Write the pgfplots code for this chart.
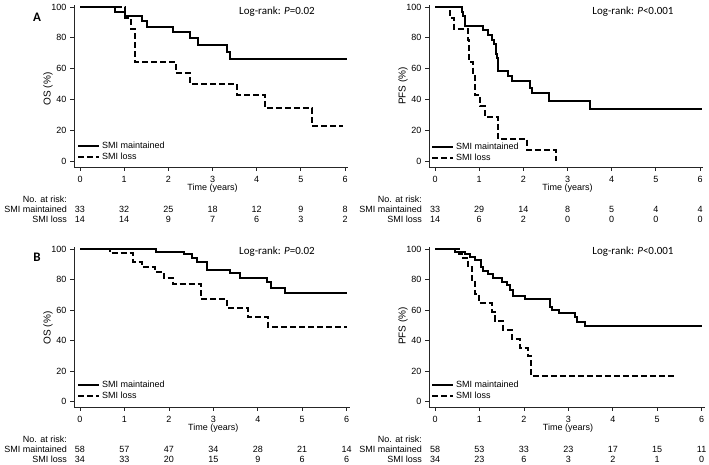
\documentclass[border=0pt]{standalone}
\usepackage{fontspec}
\setmainfont{Liberation Sans}
\newfontfamily\calfont{Carlito}
\usepackage{pgfplots}
\pgfplotsset{compat=1.18}
\newcommand\px[2]{({#1pt},{465pt-#2pt})}
\newcommand\nine{\fontsize{9}{10}\selectfont}
\pgfplotsset{
  km/.style={
    scale only axis,
    axis lines=left,
    axis line style={-, line width=0.7pt, black!85},
    tick align=outside,
    major tick length=4pt,
    tick style={line width=0.7pt, black!85},
    xtick={0,...,6},
    ytick={0,20,...,100},
    /pgf/number format/assume math mode=true,
    tick label style={font=\nine},
    xticklabel style={yshift=-1.5pt},
    clip=false,
    legend cell align=left,
    legend image code/.code={\draw[##1] (0pt,0pt) -- (21pt,0pt);},
    legend style={draw=none, fill=none, font=\nine, inner sep=0pt,
      nodes={inner xsep=2pt, inner ysep=1pt, text height=7pt, text depth=2pt}},
  },
  kmA/.style={km, width=274.1pt, height=162pt, xmin=-0.136, xmax=6.07, ymin=-3.9, ymax=101.3},
  kmB/.style={km, width=275.8pt, height=160pt, xmin=-0.135, xmax=6.07, ymin=-3.5, ymax=101.3},
  sol/.style={black, line width=2pt, const plot},
  das/.style={black, line width=2pt, const plot, dash pattern=on 6pt off 3pt},
}
\begin{document}
\begin{tikzpicture}
\useasboundingbox (0,0) rectangle (709pt,465pt);
% ---------- A left: OS ----------
\begin{axis}[kmA, at={(74pt,298pt)}, anchor=south west,
  legend style={at={(axis cs:-0.07,6.2)}, anchor=west}]
\addplot[sol] coordinates {(0,100)(0.79,97)(1.02,93.9)(1.40,90.9)(1.51,87.2)(2.11,83.5)(2.48,79.6)(2.68,75.6)(3.32,70.8)(3.40,66.2)(6.04,66.2)};
\addlegendentry{SMI maintained}
\addplot[das] coordinates {(0,100)(1.03,92.9)(1.15,85.7)(1.24,64.3)(2.17,57.1)(2.48,50)(3.55,42.9)(4.19,34.3)(5.25,22.9)(5.96,22.9)};
\addlegendentry{SMI loss}
\end{axis}
% ---------- A right: PFS ----------
\begin{axis}[kmA, at={(429pt,298pt)}, anchor=south west,
  legend style={at={(axis cs:-0.09,5.5)}, anchor=west}]
\addplot[sol] coordinates {(0,100)(0.60,97)(0.64,93.9)(0.68,87.9)(1.09,84.8)(1.21,81.8)(1.28,78.8)(1.33,75.8)(1.37,72.7)(1.39,69.7)(1.41,66.7)(1.42,63.6)(1.43,58.5)(1.66,55)(1.74,51.8)(2.15,47.7)(2.19,44.3)(2.57,39.1)(3.51,33.5)(6.04,33.5)};
\addlegendentry{SMI maintained}
\addplot[das] coordinates {(0,100)(0.33,92.9)(0.44,85.7)(0.75,78.6)(0.77,64.3)(0.87,57.1)(0.90,42.9)(1.02,35.7)(1.13,28.6)(1.43,14.3)(2.09,7.1)(2.75,0)};
\addlegendentry{SMI loss}
\end{axis}
% ---------- B left: OS ----------
\begin{axis}[kmB, at={(74pt,58pt)}, anchor=south west,
  legend style={at={(axis cs:-0.07,7.0)}, anchor=west}]
\addplot[sol] coordinates {(0,100)(1.71,98.3)(2.33,96.5)(2.51,93.9)(2.63,91.6)(2.85,86.5)(3.38,84)(3.60,80.8)(4.20,78.2)(4.29,74.7)(4.61,71)(6.0,71)};
\addlegendentry{SMI maintained}
\addplot[das] coordinates {(0,100)(0.68,97.1)(1.20,91.2)(1.39,88.2)(1.69,85.2)(1.88,80.8)(2.10,76.8)(2.72,67.5)(3.30,61.5)(3.79,55.5)(4.24,49)(6.0,49)};
\addlegendentry{SMI loss}
\end{axis}
% ---------- B right: PFS ----------
\begin{axis}[kmB, at={(429pt,58pt)}, anchor=south west,
  legend style={at={(axis cs:-0.09,7.0)}, anchor=west}]
\addplot[sol] coordinates {(0,100)(0.45,98.3)(0.68,96.6)(0.79,94.8)(0.90,93.1)(1.035,88.4)(1.09,85.8)(1.20,83.6)(1.31,81.2)(1.50,78.6)(1.61,76.4)(1.69,73.1)(1.76,69.4)(2.03,67.2)(2.59,62.2)(2.63,60)(2.78,57.9)(3.15,55.2)(3.19,52.4)(3.38,49.3)(6.0,49.3)};
\addlegendentry{SMI maintained}
\addplot[das] coordinates {(0,100)(0.53,96.7)(0.64,93.9)(0.75,88)(0.83,79.7)(0.90,70.5)(0.99,64.4)(1.28,59)(1.35,53.1)(1.54,46.9)(1.73,41)(1.91,34.9)(2.10,29.9)(2.15,16.8)(5.4,16.8)};
\addlegendentry{SMI loss}
\end{axis}
% ---------- text ----------
\node[font=\calfont\bfseries\fontsize{13}{13}\selectfont] at \px{37}{17} {A};
\node[font=\calfont\bfseries\fontsize{13}{13}\selectfont] at \px{37}{257} {B};
\begin{scope}[every node/.style={font=\calfont\fontsize{11}{12}\selectfont}]
\node at \px{277}{12} {Log-rank: \textit{P}=0.02};
\node at \px{633}{12} {Log-rank: \textit{P}<0.001};
\node at \px{277}{252} {Log-rank: \textit{P}=0.02};
\node at \px{633}{252} {Log-rank: \textit{P}<0.001};
\end{scope}
\begin{scope}[every node/.style={font=\fontsize{10}{11}\selectfont, inner sep=0pt}]
\node[rotate=90] at \px{48}{89} {OS (\%)};
\node[rotate=90] at \px{403}{86} {PFS (\%)};
\node[rotate=90] at \px{48}{328} {OS (\%)};
\node[rotate=90] at \px{403}{326} {PFS (\%)};
\end{scope}
\begin{scope}[every node/.style={font=\nine, inner sep=0pt}]
\node at \px{212.5}{188} {Time (years)};
\node at \px{567.5}{188} {Time (years)};
\node at \px{213.3}{428.5} {Time (years)};
\node at \px{568}{428.5} {Time (years)};
% at-risk labels
\foreach \xx/\yy in {67/199, 422/199, 67/439, 422/439}{
  \node[anchor=east] at \px{\xx}{\yy} {No. at risk:};}
\foreach \xx/\yy in {67/209.3, 422/209.3, 67/449, 422/449}{
  \node[anchor=east] at \px{\xx}{\yy} {SMI maintained};}
\foreach \xx/\yy in {67/219.3, 422/219.3, 67/459, 422/459}{
  \node[anchor=east] at \px{\xx}{\yy} {SMI loss};}
% at-risk numbers
\foreach \n [count=\i from 0] in {33,32,25,18,12,9,8}
  \node at \px{80+\i*44.17}{209.3} {\n};
\foreach \n [count=\i from 0] in {14,14,9,7,6,3,2}
  \node at \px{80+\i*44.17}{219.3} {\n};
\foreach \n [count=\i from 0] in {33,29,14,8,5,4,4}
  \node at \px{435+\i*44.17}{209.3} {\n};
\foreach \n [count=\i from 0] in {14,6,2,0,0,0,0}
  \node at \px{435+\i*44.17}{219.3} {\n};
\foreach \n [count=\i from 0] in {58,57,47,34,28,21,14}
  \node at \px{80+\i*44.44}{449} {\n};
\foreach \n [count=\i from 0] in {34,33,20,15,9,6,6}
  \node at \px{80+\i*44.44}{459} {\n};
\foreach \n [count=\i from 0] in {58,53,33,23,17,15,11}
  \node at \px{435+\i*44.44}{449} {\n};
\foreach \n [count=\i from 0] in {34,23,6,3,2,1,0}
  \node at \px{435+\i*44.44}{459} {\n};
\end{scope}
\end{tikzpicture}
\end{document}
